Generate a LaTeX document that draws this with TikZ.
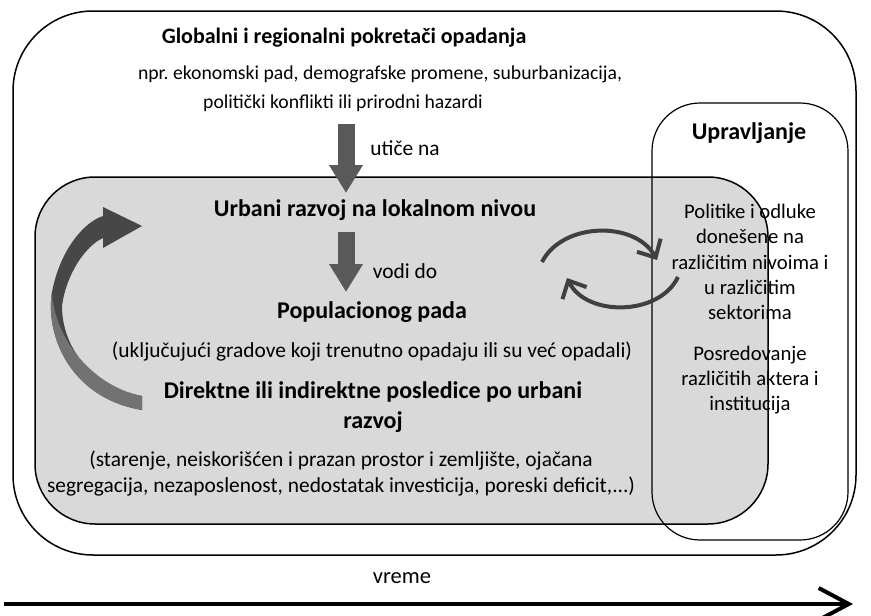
\documentclass[tikz,border=0pt]{standalone}
\usepackage{fontspec}
\setmainfont{Carlito}
\usetikzlibrary{arrows.meta}
\frenchspacing

\definecolor{boxgray}{HTML}{D9D9D9}
\definecolor{arrgray}{HTML}{595959}
\definecolor{cycgray}{HTML}{404040}

\begin{document}
\begin{tikzpicture}[x=1pt, y=-1pt,
    every node/.style={inner sep=0pt},
    small/.style={font=\fontsize{19.7}{24}\selectfont, align=center},
    plain/.style={font=\fontsize{21.4}{26}\selectfont, align=center},
    govtext/.style={font=\fontsize{20.7}{25.3}\selectfont, align=center},
    heading/.style={font=\fontsize{24}{30}\selectfont\bfseries, align=center},
    blockarr/.style={arrgray, line width=17pt, -{Triangle[length=28pt,width=32pt]}},
    cycarr/.style={cycgray, line width=4pt, -{Straight Barb[length=14pt,width=27pt]}},
    timearr/.style={line width=4pt, -{Straight Barb[length=30pt,width=32pt]}}]

\useasboundingbox (0,0) rectangle (871,616);

% frames
\draw[line width=1.5pt, rounded corners=80pt] (13,11) rectangle (856,555);
\fill[boxgray, rounded corners=60pt] (35,177) rectangle (768,524);
\draw[line width=1.2pt, rounded corners=48pt] (652,103) rectangle (848,540);

% global drivers
\node[heading, font=\fontsize{22}{26}\selectfont\bfseries] (drivers) at (344,38) {Globalni i regionalni pokretači opadanja};
\node[small] (driversA) at (380,74) {npr. ekonomski pad, demografske promene, suburbanizacija,};
\node[small] (driversB) at (343,103) {politički konflikti ili prirodni hazardi};
\node[plain] (affects) at (405,148) {utiče na};

% local level
\node[heading] (urban) at (375,210) {Urbani razvoj na lokalnom nivou};
\node[plain] (leads) at (405,271) {vodi do};
\node[heading] (popdecl) at (372,312) {Populacionog pada};
\node[plain] (incl) at (372,352) {(uključujući gradove koji trenutno opadaju ili su već opadali)};
\node[heading] (conseq) at (373,407) {Direktne ili indirektne posledice po urbani\\razvoj};
\node[plain] (examples) at (341,474) {(starenje, neiskorišćen i prazan prostor i zemljište, ojačana\\segregacija, nezaposlenost, nedostatak investicija, poreski deficit,...)};

% governance
\node[heading] (gov) at (749,133) {Upravljanje};
\node[govtext] (policies) at (750,262) {Politike i odluke\\donešene na\\različitim nivoima i\\u različitim\\sektorima};
\node[govtext] (mediation) at (750,380) {Posredovanje\\različitih aktera i\\institucija};

\draw[line width=1.5pt, rounded corners=60pt] (35,177) rectangle (768,524);

% time
\node[plain, font=\fontsize{22.5}{26}\selectfont] (time) at (402,578) {vreme};
\coordinate (t0) at (4,604);
\coordinate (t1) at (853,604);
\draw[timearr] (t0) -- (t1);

% block arrows
\coordinate (a1) at (346,124);
\coordinate (b1) at (346,193);
\coordinate (a2) at (346,232);
\coordinate (b2) at (346,292);
\draw[blockarr] (a1) -- (b1);
\draw[blockarr] (a2) -- (b2);

% feedback ribbon
\fill[arrgray!80!black] (142,410) .. controls (70,398) and (45,335) .. (52,292)
  .. controls (60,250) and (84,222) .. (103,216) -- (103,207) -- (142,226)
  -- (103,248) -- (103,238) .. controls (85,246) and (66,275) .. (62,306)
  .. controls (62,350) and (95,388) .. (142,396) -- cycle;
\fill[arrgray!85!white] (142,410) .. controls (70,398) and (45,335) .. (52,292)
  .. controls (54,338) and (92,386) .. (142,396) -- cycle;

% interaction cycle
\coordinate (c1) at (542,262);
\coordinate (d1) at (657,260);
\coordinate (c2) at (678,277);
\coordinate (d2) at (567,278);
\draw[cycarr] (c1) to[bend left=62] (d1);
\draw[cycarr] (c2) to[bend left=64] (d2);
\end{tikzpicture}
\end{document}
